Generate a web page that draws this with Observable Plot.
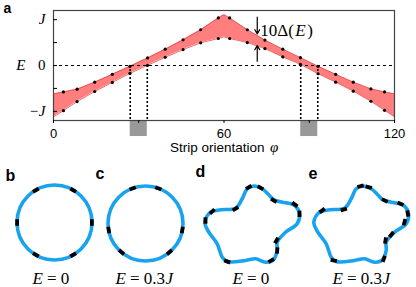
<!DOCTYPE html>
<html><head><meta charset="utf-8">
<script src="https://cdn.jsdelivr.net/npm/d3@7"></script>
<script src="https://cdn.jsdelivr.net/npm/@observablehq/plot@0.6"></script>
<style>body{margin:0;background:#fff} svg{display:block}</style>
</head><body><div id="chart"></div>
<script>
// ---------- panel a data ----------
const phi   = [3.5, 8.3, 14.5, 20.7, 26.9, 33.1, 39.3, 45.6, 51.8, 58.0, 62.0, 68.2, 74.4, 80.7, 86.9, 93.1, 99.3, 105.5, 111.7, 116.5];
const upper = [-0.576, -0.516, -0.363, -0.193, -0.018, 0.165, 0.356, 0.560, 0.780, 1.037, 1.037, 0.780, 0.554, 0.356, 0.171, -0.018, -0.193, -0.363, -0.510, -0.576];
const lower = [-0.985, -0.787, -0.567, -0.369, -0.171, 0.004, 0.180, 0.347, 0.495, 0.589, 0.589, 0.501, 0.369, 0.187, 0.026, -0.180, -0.363, -0.560, -0.780, -0.978];
const bandPhi   = [0, 3.5, 8.3, 14.5, 20.7, 26.9, 33.1, 39.3, 45.6, 51.8, 58.0, 60, 62.0, 68.2, 74.4, 80.7, 86.9, 93.1, 99.3, 105.5, 111.7, 116.5, 120];
const bandUpper = [-0.62, -0.576, -0.516, -0.363, -0.193, -0.018, 0.165, 0.356, 0.560, 0.780, 1.037, 1.11, 1.037, 0.780, 0.554, 0.356, 0.171, -0.018, -0.193, -0.363, -0.510, -0.576, -0.62];
const bandLower = [-1.12, -0.985, -0.787, -0.567, -0.369, -0.171, 0.004, 0.180, 0.347, 0.495, 0.589, 0.626, 0.589, 0.501, 0.369, 0.187, 0.026, -0.180, -0.363, -0.560, -0.780, -0.978, -1.12];
const crossings = [27, 33, 87, 93];
const grayStart = [27, 87];
const grayEnd   = [33, 93];
const xTicks = [0, 30, 60, 90, 120];
const xTickLabels = ["0", "", "60", "", "120"];
const yTicks = [-1, -0.5, 0, 0.5, 1];
const yTickLabels = ["−J", "", "0", "", "J"];

// ---------- panels b–e data ----------
const circleCx = [54, 145];
const circleCy = [222, 223];
const bDashAngles = [0, 60, 120, 180, 240, 300];
const cDashAngles = [70, 110, 190, 230, 310, 350];
const starX = [253.3, 261.7, 268, 273.3, 281.7, 293.3, 299, 296.7, 285, 276.7, 276.7, 272.3, 265, 255, 245, 226.7, 221.7, 216.7, 208.3, 204.3, 210, 220, 235, 241.7, 246.7];
const starY = [185.5, 188.3, 194, 199.3, 201.7, 204.3, 213.3, 223.3, 231.7, 241.7, 250, 260, 261.7, 258.3, 260, 261, 256.7, 243.3, 231.7, 221.7, 211.7, 209.3, 207.7, 198.3, 188.3];
const starEShift = 109;
const dDashX = [248.3, 260, 273.3, 294.3, 299, 276, 276.7, 270.7, 226.7, 211.7, 205, 235];
const dDashY = [186.7, 187.3, 200, 204, 213.3, 240, 250, 260, 261, 211, 220, 208.3];
const dDashAngle = [-30, 30, 30, 35, 90, 120, 95, 150, 20, -45, 90, -30];
const eDashX = [321.7, 343.3, 360, 368.3, 384.3, 400, 407.3, 404, 391, 385, 383.3, 333.3];
const eDashY = [210, 209, 185.7, 186.7, 200, 203.3, 213, 221.7, 234, 240, 258.3, 260];
const eDashAngle = [-35, -15, -15, 15, 25, 25, 80, 105, 130, 100, 110, 10];
const panelLetters = ["b", "c", "d", "e"];
const panelLetterX = [5, 95, 195, 308];
const panelLetterY = [180, 178, 176, 178];
const captionX = [32, 115, 232, 332];
const captionRest = ["= 0", "= 0.3", "= 0", "= 0.3"];
const captionJ = [false, true, false, true];

// ---------- build tables ----------
const band = bandPhi.map((p, i) => ({phi: p, hi: bandUpper[i], lo: bandLower[i]}));
const dots = phi.flatMap((p, i) => [{phi: p, E: upper[i]}, {phi: p, E: lower[i]}]);
const gray = grayStart.map((s, i) => ({start: s, end: grayEnd[i]}));
const yLab = yTicks.map((v, i) => ({v, t: yTickLabels[i]})).filter(d => d.t);

const serif = "'Liberation Serif', 'Times New Roman', serif";
const sans = "'Liberation Sans', Arial, sans-serif";
const blue = "#19a3ee";

const topPlot = Plot.plot({
  width: 416, height: 156,
  marginLeft: 53, marginRight: 22, marginTop: 10, marginBottom: 36,
  style: {fontFamily: sans, fontSize: "13px", background: "white", overflow: "visible"},
  x: {domain: [0, 120]},
  y: {domain: [-1.2, 1.2]},
  marks: [
    Plot.areaY(band, {x: "phi", y1: "lo", y2: "hi", fill: "#ff7f7f"}),
    Plot.line(band, {x: "phi", y: "hi", stroke: "#ea4646", strokeWidth: 0.8}),
    Plot.line(band, {x: "phi", y: "lo", stroke: "#ea4646", strokeWidth: 0.8}),
    Plot.ruleY([0], {stroke: "black", strokeWidth: 1.2, strokeDasharray: "3,3"}),
    Plot.ruleX(crossings, {y1: 0, y2: -1.2, stroke: "black", strokeWidth: 1.6, strokeDasharray: "2,2"}),
    Plot.rect(gray, {x1: "start", x2: "end", y1: -1.2, y2: -1.55, fill: "#999999"}),
    Plot.dot(dots, {x: "phi", y: "E", r: 1.6, fill: "black"}),
    Plot.frame({stroke: "#444", strokeWidth: 1.2}),
    Plot.axisX(xTicks, {tickSize: 3, tickPadding: 5, tickFormat: d => xTickLabels[xTicks.indexOf(d)], label: null, fontSize: 13}),
    Plot.axisY(yTicks, {tickSize: 4, dx: 4, tickFormat: () => "", label: null}),
    Plot.text(yLab.filter(d => d.t !== "0"), {x: 0, y: "v", text: "t", dx: -8, textAnchor: "end", fontFamily: serif, fontStyle: "italic", fontSize: 15}),
    Plot.text(yLab.filter(d => d.t === "0"), {x: 0, y: "v", text: "t", dx: -8, textAnchor: "end", fontFamily: serif, fontSize: 15}),
    Plot.text(["E"], {x: 0, y: 0, dx: -28, textAnchor: "end", fontFamily: serif, fontStyle: "italic", fontSize: 15}),
    Plot.text(["Strip orientation"], {frameAnchor: "bottom", dx: 40.5, dy: 27, textAnchor: "end", lineAnchor: "middle", fontSize: 13.5}),
    Plot.text(["φ"], {frameAnchor: "bottom", dx: 46, dy: 27, textAnchor: "start", lineAnchor: "middle", fontFamily: serif, fontStyle: "italic", fontSize: 15}),
    Plot.text(["10Δ("], {x: 72.8, y: 0.76, textAnchor: "start", lineAnchor: "middle", fontFamily: serif, fontSize: 17}),
    Plot.text(["E"], {x: 72.8, y: 0.76, dx: 35, textAnchor: "start", lineAnchor: "middle", fontFamily: serif, fontStyle: "italic", fontSize: 17}),
    Plot.text([")"], {x: 72.8, y: 0.76, dx: 47, textAnchor: "start", lineAnchor: "middle", fontFamily: serif, fontSize: 17}),
    Plot.arrow([0], {x1: 71.7, x2: 71.7, y1: 1.054, y2: 0.69, stroke: "black", strokeWidth: 1.2, headLength: 6}),
    Plot.arrow([0], {x1: 71.7, x2: 71.7, y1: 0.094, y2: 0.436, stroke: "black", strokeWidth: 1.2, headLength: 6}),
    Plot.text(["a"], {frameAnchor: "top-left", dx: -50, dy: -1.5, textAnchor: "start", lineAnchor: "middle", fontWeight: "bold", fontSize: 14})
  ]
});

// dashes
const rad = Math.PI / 180;
const R = 37.5;
function circleDashes(cx, cy, angles) {
  return angles.map(a => ({
    x1: cx + R * Math.cos((a - 5) * rad), y1: cy - R * Math.sin((a - 5) * rad),
    x2: cx + R * Math.cos((a + 5) * rad), y2: cy - R * Math.sin((a + 5) * rad)
  }));
}
function curveDashes(xs, ys, angs) {
  const h = 3.2;
  return xs.map((x, i) => ({
    x1: x - h * Math.cos(angs[i] * rad), y1: ys[i] - h * Math.sin(angs[i] * rad),
    x2: x + h * Math.cos(angs[i] * rad), y2: ys[i] + h * Math.sin(angs[i] * rad)
  }));
}
const dashData = [
  ...circleDashes(circleCx[0], circleCy[0], bDashAngles),
  ...circleDashes(circleCx[1], circleCy[1], cDashAngles),
  ...curveDashes(dDashX, dDashY, dDashAngle),
  ...curveDashes(eDashX, eDashY, eDashAngle)
];
const circles = circleCx.map((x, i) => ({x, y: circleCy[i]}));
const stars = [
  ...starX.map((x, i) => ({x, y: starY[i], s: "d"})),
  ...starX.map((x, i) => ({x: x + starEShift, y: starY[i], s: "e"}))
];
const letters = panelLetters.map((t, i) => ({t, x: panelLetterX[i], y: panelLetterY[i]}));
const caps = captionX.map((x, i) => ({x, rest: captionRest[i], J: captionJ[i]}));

const bottomPlot = Plot.plot({
  width: 416, height: 131, margin: 0,
  style: {fontFamily: sans, fontSize: "13px", background: "white", overflow: "visible"},
  x: {domain: [0, 416], axis: null},
  y: {domain: [156, 287], reverse: true, axis: null},
  marks: [
    Plot.dot(circles, {x: "x", y: "y", r: R, stroke: blue, strokeWidth: 3.6, fill: "none"}),
    Plot.line(stars, {x: "x", y: "y", z: "s", curve: "catmull-rom-closed", stroke: blue, strokeWidth: 3.6}),
    Plot.link(dashData, {x1: "x1", y1: "y1", x2: "x2", y2: "y2", stroke: "black", strokeWidth: 3.8}),
    Plot.text(letters, {x: "x", y: "y", text: "t", textAnchor: "start", lineAnchor: "bottom", fontWeight: "bold", fontSize: 16}),
    Plot.text(caps, {x: "x", y: 283, text: () => "E", textAnchor: "start", lineAnchor: "bottom", fontFamily: serif, fontStyle: "italic", fontSize: 17}),
    Plot.text(caps, {x: "x", y: 283, dx: 14.5, text: "rest", textAnchor: "start", lineAnchor: "bottom", fontFamily: serif, fontSize: 17}),
    Plot.text(caps.filter(d => d.J), {x: "x", y: 283, dx: 50, text: () => "J", textAnchor: "start", lineAnchor: "bottom", fontFamily: serif, fontStyle: "italic", fontSize: 17})
  ]
});

document.getElementById("chart").append(topPlot, bottomPlot);
</script>
</body></html>
